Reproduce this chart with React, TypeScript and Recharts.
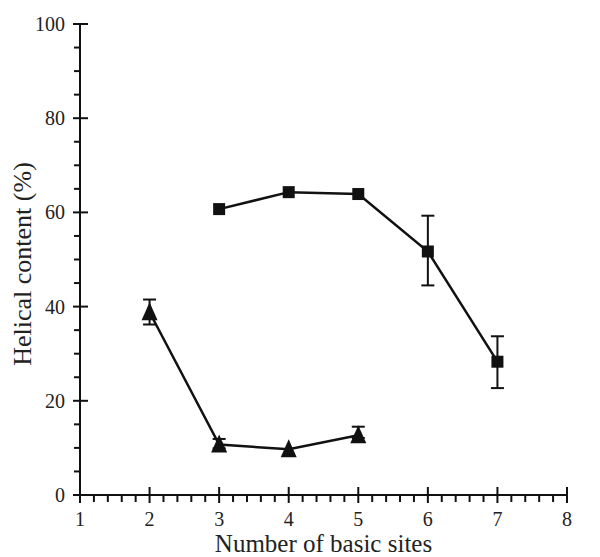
import React from "react";
import { ComposedChart, Line, XAxis, YAxis, ErrorBar, Label } from "recharts";

// tick values
const xMajorTicks = [1, 2, 3, 4, 5, 6, 7, 8];
const yMajorTicks = [0, 20, 40, 60, 80, 100];
const xMinorStep = 0.2;
const yMinorStep = 5;

// squares series (null = no visible error bar)
const squareX = [3, 4, 5, 6, 7];
const squareY = [60.7, 64.3, 63.9, 51.7, 28.3];
const squareErrLow = [null, null, null, 7.2, 5.6];
const squareErrHigh = [null, null, null, 7.6, 5.4];

// triangles series
const triangleX = [2, 3, 4, 5];
const triangleY = [38.8, 10.7, 9.7, 12.7];
const triangleErrLow = [2.6, 0.8, null, 0.6];
const triangleErrHigh = [2.7, 1.2, null, 1.8];

function buildTicks(major: number[], step: number) {
  const out: number[] = [];
  for (let i = 0; i < major.length - 1; i++) {
    const n = Math.round((major[i + 1] - major[i]) / step);
    for (let k = 0; k < n; k++) {
      out.push(Math.round((major[i] + k * step) * 1000) / 1000);
    }
  }
  out.push(major[major.length - 1]);
  return out;
}

const xTicks = buildTicks(xMajorTicks, xMinorStep);
const yTicks = buildTicks(yMajorTicks, yMinorStep);

function withErr(x: number, y: number, lo: number | null, hi: number | null) {
  return lo == null || hi == null ? { x, y } : { x, y, err: [lo, hi] };
}

const squareData = squareX.map((x, i) => withErr(x, squareY[i], squareErrLow[i], squareErrHigh[i]));
const triangleData = triangleX.map((x, i) =>
  withErr(x, triangleY[i], triangleErrLow[i], triangleErrHigh[i])
);

const font = "'Liberation Serif', 'Times New Roman', serif";

function XTick(props: any) {
  const { x, y, payload } = props;
  const v = payload.value;
  const major = xMajorTicks.includes(v);
  return (
    <g>
      {major ? (
        <line x1={x} x2={x} y1={y - 8} y2={y + 8} stroke="#111" strokeWidth={2} />
      ) : (
        <line x1={x} x2={x} y1={y} y2={y + 7} stroke="#111" strokeWidth={2} />
      )}
      {major && (
        <text x={x} y={y + 31} textAnchor="middle" fontSize={20} fontFamily={font} fill="#222">
          {v}
        </text>
      )}
    </g>
  );
}

function YTick(props: any) {
  const { x, y, payload } = props;
  const v = payload.value;
  const major = yMajorTicks.includes(v);
  return (
    <g>
      {major ? (
        <line x1={x - 7} x2={x + 8} y1={y} y2={y} stroke="#111" strokeWidth={2} />
      ) : (
        <line x1={x - 6} x2={x} y1={y} y2={y} stroke="#111" strokeWidth={2} />
      )}
      {major && (
        <text x={x - 15} y={y + 7} textAnchor="end" fontSize={20} fontFamily={font} fill="#222">
          {v}
        </text>
      )}
    </g>
  );
}

function SquareDot(props: any) {
  const { cx, cy } = props;
  if (cx == null || cy == null) return null;
  return <rect x={cx - 6} y={cy - 6} width={12} height={12} fill="#111" />;
}

function TriangleDot(props: any) {
  const { cx, cy } = props;
  if (cx == null || cy == null) return null;
  return (
    <polygon
      points={`${cx},${cy - 10} ${cx + 8},${cy + 8} ${cx - 8},${cy + 8}`}
      fill="#111"
    />
  );
}

export default function App() {
  return (
    <div style={{ position: "absolute", left: 0, top: 0, background: "#fff" }}>
      <ComposedChart
        width={600}
        height={557}
        margin={{ top: 24, right: 33, left: 0, bottom: 0 }}
      >
        <XAxis
          type="number"
          dataKey="x"
          domain={[1, 8]}
          ticks={xTicks}
          interval={0}
          tick={XTick}
          tickLine={false}
          tickSize={0}
          tickMargin={0}
          height={62}
          axisLine={{ stroke: "#111", strokeWidth: 2 }}
          allowDuplicatedCategory={false}
        >
          <Label
            content={(p: any) => {
              const vb = p.viewBox;
              return (
                <text
                  x={vb.x + vb.width / 2}
                  y={552}
                  textAnchor="middle"
                  fontSize={25}
                  fontFamily={font}
                  fill="#222"
                >
                  Number of basic sites
                </text>
              );
            }}
          />
        </XAxis>
        <YAxis
          type="number"
          domain={[0, 100]}
          ticks={yTicks}
          interval={0}
          tick={YTick}
          tickLine={false}
          tickSize={0}
          tickMargin={0}
          width={80}
          axisLine={{ stroke: "#111", strokeWidth: 2 }}
        >
          <Label
            content={() => (
              <text
                x={31}
                y={264}
                transform="rotate(-90, 31, 264)"
                textAnchor="middle"
                fontSize={26}
                fontFamily={font}
                fill="#222"
              >
                Helical content (%)
              </text>
            )}
          />
        </YAxis>
        <Line
          data={squareData}
          dataKey="y"
          stroke="#111"
          strokeWidth={2.5}
          dot={SquareDot}
          activeDot={false}
          isAnimationActive={false}
        >
          <ErrorBar dataKey="err" direction="y" width={6.5} stroke="#111" strokeWidth={2} />
        </Line>
        <Line
          data={triangleData}
          dataKey="y"
          stroke="#111"
          strokeWidth={2.5}
          dot={TriangleDot}
          activeDot={false}
          isAnimationActive={false}
        >
          <ErrorBar dataKey="err" direction="y" width={6.5} stroke="#111" strokeWidth={2} />
        </Line>
      </ComposedChart>
    </div>
  );
}
